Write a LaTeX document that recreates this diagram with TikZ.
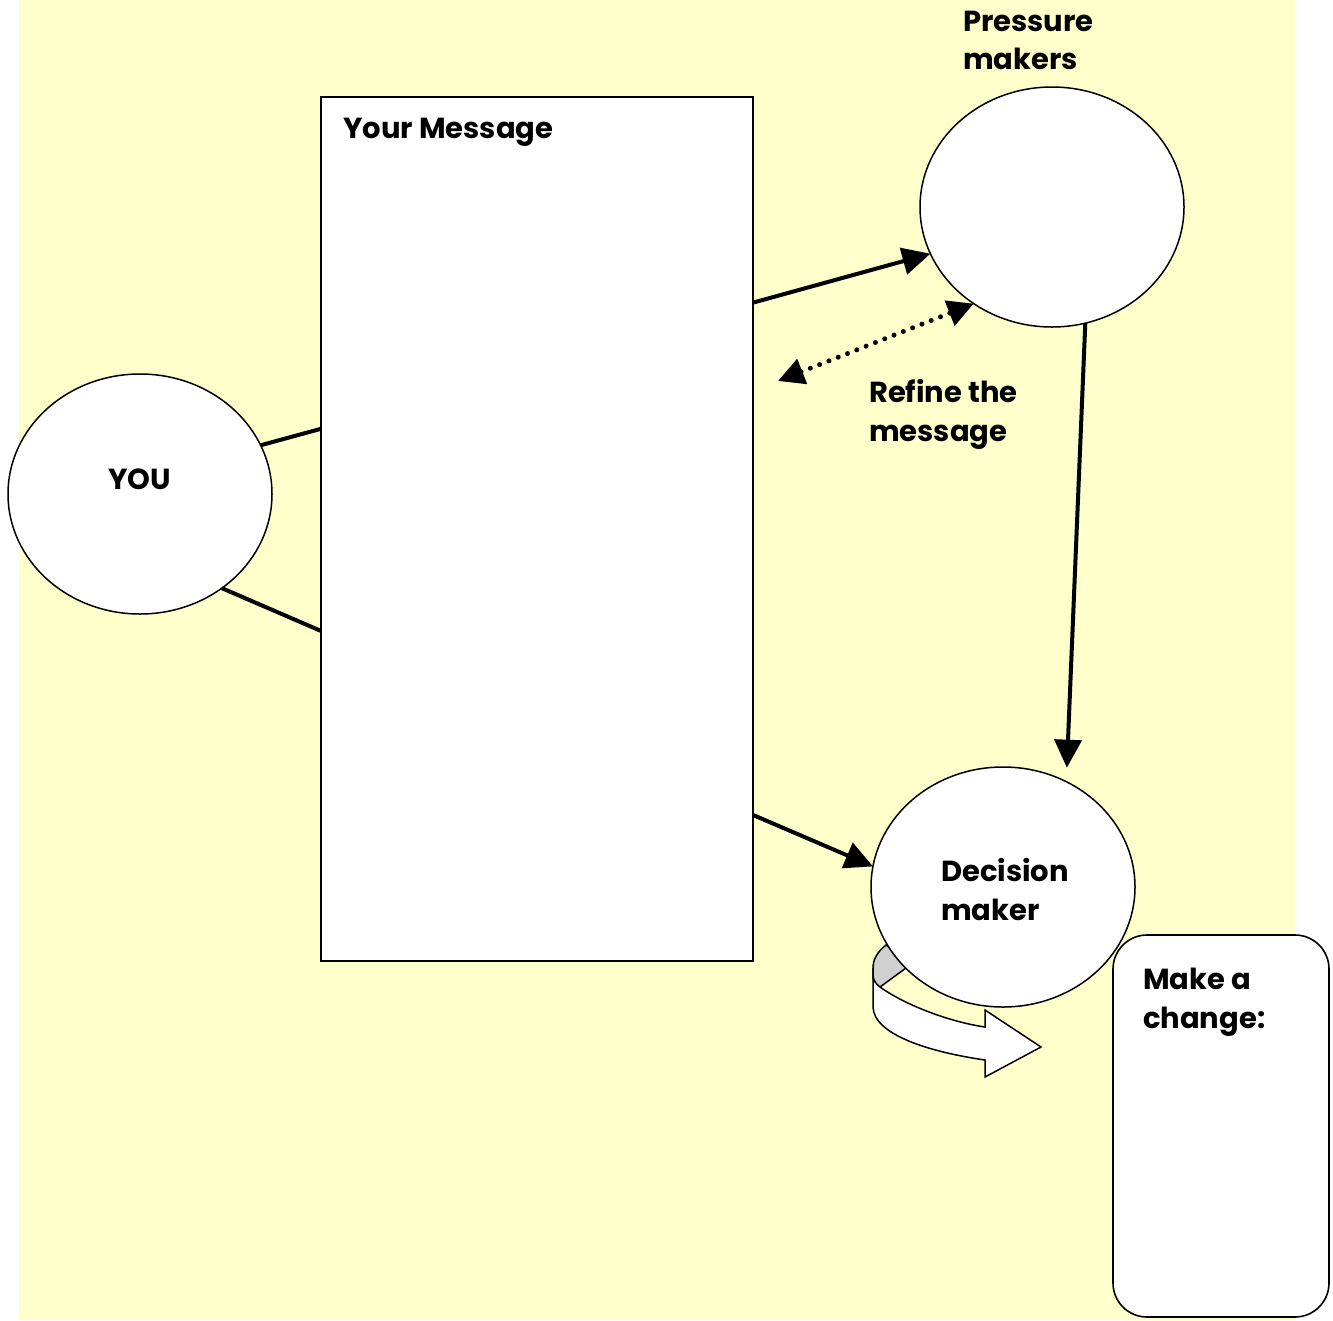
\documentclass[tikz,border=0pt]{standalone}
\usepackage{fontspec}
\setmainfont{Poppins}
\usetikzlibrary{shapes.geometric,arrows.meta,calc}
\definecolor{bgyellow}{HTML}{FFFFCC}
\definecolor{ribgray}{HTML}{D0D0D0}
\tikzset{
  lbl/.style={font=\fontsize{29}{38}\selectfont\bfseries, inner sep=0pt, anchor=base west},
  bubble/.style={ellipse, draw=black, line width=1.5pt, fill=white, minimum width=264pt, minimum height=240pt, inner sep=0pt, outer sep=0pt},
  panel/.style={rectangle, draw=black, line width=1.6pt, fill=white, inner sep=0pt, outer sep=0pt},
  link/.style={line width=4pt},
  arr/.style={line width=4pt, -{Triangle[length=28pt,width=27pt]}},
  dotarr/.style={line width=5pt, line cap=round, dash pattern=on 0pt off 10pt,
    {Triangle[length=26pt,width=26pt]}-{Triangle[length=26pt,width=26pt]}},
}
\begin{document}
\begin{tikzpicture}[x=1pt,y=-1pt]
\useasboundingbox (0,0) rectangle (1333,1320);
\fill[bgyellow] (19,0) rectangle (1295,1320);

% message panel
\node[panel, minimum width=432pt, minimum height=864pt] (msg) at (537,529) {};
\coordinate (mw1) at ($(msg.north west)!0.384!(msg.south west)$);
\coordinate (mw2) at ($(msg.north west)!0.618!(msg.south west)$);
\coordinate (me1) at ($(msg.north east)!0.238!(msg.south east)$);
\coordinate (me2) at ($(msg.north east)!0.831!(msg.south east)$);
\node[lbl] (tmsg) at (343,138) {Your Message};

% YOU
\node[bubble] (you) at (140,494) {};
\draw[link] (you.22) -- (mw1);
\draw[link] (you.-49) -- (mw2);
\node[lbl] (tyou) at (108,489) {YOU};

% pressure makers
\node[bubble] (pm) at (1052,207) {};
\node[lbl] (tpm1) at (963,31) {Pressure};
\node[lbl] (tpm2) at (963,69) {makers};

% ribbon behind decision maker
\path[draw=black, line width=1.5pt, fill=ribgray]
  (886,945) .. controls (877,952) and (873,960) .. (873,968)
  -- (873,978) .. controls (874,983) and (877,986) .. (880,987)
  -- (906,968) -- (900,955) -- cycle;
\path[draw=black, line width=1.5pt, fill=white]
  (873,968) -- (873,1007) .. controls (874,1035) and (930,1052) .. (985,1060)
  -- (985,1077) -- (1041,1047) -- (985,1010) -- (985,1027)
  .. controls (950,1022) and (905,1005) .. (880,987)
  .. controls (876,984) and (873,980) .. (873,975) -- cycle;

% decision maker
\node[bubble] (dm) at (1003,887) {};
\node[lbl] (tdm1) at (941,881) {Decision};
\node[lbl] (tdm2) at (941,920) {maker};

% make a change
\node[panel, rounded corners=34pt, minimum width=216pt, minimum height=382pt] (chg) at (1221,1126) {};
\node[lbl] (tch1) at (1143,989) {Make a};
\node[lbl] (tch2) at (1143,1028) {change:};

% arrows
\draw[arr] (me1) -- (pm.201);
\draw[arr] (me2) -- (dm.171);
\draw[arr, shorten >=14pt] (pm.-74) -- (dm.59);
\coordinate (dotend) at (778,381);
\draw[dotarr] (dotend) -- (pm.231);
\node[lbl] (tref1) at (869,402) {Refine the};
\node[lbl] (tref2) at (869,441) {message};
\end{tikzpicture}
\end{document}
